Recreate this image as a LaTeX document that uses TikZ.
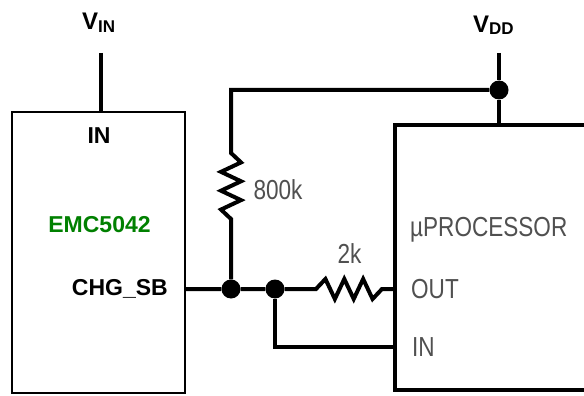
\documentclass[tikz,border=0pt]{standalone}
\usepackage{fontspec}
\setmainfont{Liberation Sans}
\newfontfamily\condfont[FakeStretch=0.82]{Liberation Sans}
\definecolor{lblgray}{RGB}{80,80,80}
\definecolor{chipgreen}{RGB}{0,128,0}
\begin{document}
\begin{tikzpicture}[x=1pt,y=-1pt,
  wire/.style={line width=4pt, line join=miter},
  chip/.style={draw, rectangle, inner sep=0pt, outer sep=0pt},
  jdot/.style={circle, fill=black, inner sep=0pt, minimum size=19pt},
  boldlbl/.style={font=\bfseries\fontsize{23}{23}\selectfont, inner sep=0pt},
  graylbl/.style={font=\condfont\fontsize{27.5}{27.5}\selectfont, text=lblgray, inner sep=0pt}]
\useasboundingbox (0,0) rectangle (584,396);
\fill[white] (0,0) rectangle (584,396);
% boxes
\node[chip, line width=2.8pt, minimum width=173pt, minimum height=281pt] (emc) at (98.5,252.5) {};
\node[chip, line width=4pt, minimum width=245pt, minimum height=265pt] (proc) at (517.5,257.5) {};
% junctions and points
\node[jdot] (j1) at (231,289) {};
\node[jdot] (j2) at (275,289) {};
\node[jdot] (j3) at (499,90) {};
\coordinate (vin) at (101,53);
\coordinate (vdd) at (499,53);
\coordinate (r8t) at (231,153);
\coordinate (r8b) at (231,219);
\coordinate (r2l) at (316,289);
\coordinate (r2r) at (382,289);
\coordinate (tl) at (231,90);
\coordinate (lp) at (275,347);
% wires
\draw[wire] (vin) -- (vin |- emc.north);
\draw[wire] (vdd) -- (j3) -- (vdd |- proc.north);
\draw[wire] (emc.east |- j1) -- (j1) -- (j2) -- (r2l)
  -- ++(9.43,-10) -- ++(9.43,20) -- ++(9.43,-20) -- ++(9.43,20)
  -- ++(9.43,-20) -- ++(9.43,20) -- (r2r) -- (r2r -| proc.west);
\draw[wire] (j1) -- (r8b)
  -- ++(-10,-9.43) -- ++(20,-9.43) -- ++(-20,-9.43) -- ++(20,-9.43)
  -- ++(-20,-9.43) -- ++(20,-9.43) -- (r8t) -- (tl) -- (j3);
\draw[wire] (j2) -- (lp) -- (lp -| proc.west);
% labels
\node[anchor=base west, inner sep=0pt] (vinlbl) at (82,30)
  {\bfseries\fontsize{24}{24}\selectfont V\raisebox{-3pt}{\fontsize{17}{17}\selectfont IN}};
\node[anchor=base west, inner sep=0pt] (vddlbl) at (473,33)
  {\bfseries\fontsize{24}{24}\selectfont V\raisebox{-2pt}{\fontsize{17}{17}\selectfont DD}};
\node[boldlbl, anchor=base] (inlbl) at (99,143) {IN};
\node[boldlbl, anchor=base, text=chipgreen] (emclbl) at (99.5,232) {EMC5042};
\node[boldlbl, anchor=base east] (chglbl) at (168,295) {CHG\_SB};
\node[graylbl, anchor=base west] (mup) at (410,236) {µPROCESSOR};
\node[graylbl, anchor=base west] (outlbl) at (411,298) {OUT};
\node[graylbl, anchor=base west] (pinlbl) at (412,356) {IN};
\node[graylbl, anchor=base] (r8lbl) at (278,199) {800k};
\node[graylbl, anchor=base] (r2lbl) at (349.5,263) {2k};
\end{tikzpicture}
\end{document}
